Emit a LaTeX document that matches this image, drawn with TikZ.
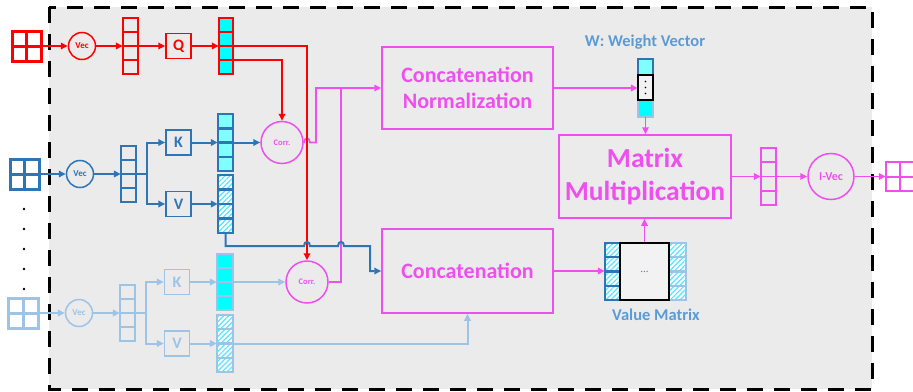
\documentclass[tikz,border=0pt]{standalone}
\usepackage{fontspec}
\setmainfont{Carlito}
\usetikzlibrary{arrows.meta,patterns.meta,fit,calc}
\definecolor{myred}{HTML}{FF0000}
\definecolor{mypink}{HTML}{EE4FEE}
\definecolor{dblue}{HTML}{2E75B6}
\definecolor{lblue}{HTML}{9DC3E6}
\definecolor{wblue}{HTML}{5B9BD5}
\definecolor{cyanA}{HTML}{00FFFF}
\definecolor{cyanL}{HTML}{7FFFFF}
\definecolor{hatchc}{HTML}{55E6FF}
\definecolor{bggray}{HTML}{EBEBEB}
\definecolor{dotc}{HTML}{5B7FA6}
\newcommand\gridin[6]{%
  \draw[#6] (#2,#3) rectangle (#4,#5) ({(#2+#4)/2},#3) -- ({(#2+#4)/2},#5) (#2,{(#3+#5)/2}) -- (#4,{(#3+#5)/2});
  \node[fit={(#2,#3) (#4,#5)}, inner sep=0pt] (#1) {};}
\newcommand\cellcol[6]{%
  \foreach \k in {0,1,2,3}{\draw[#6] (#2,{#3+\k*(#5-#3)/4}) rectangle (#4,{#3+(\k+1)*(#5-#3)/4});}
  \node[fit={(#2,#3) (#4,#5)}, inner sep=0pt] (#1) {};}
\begin{document}
\begin{tikzpicture}[x=1pt,y=-1pt,
  arr/.style={-{Triangle[length=7pt,width=6.5pt]}},
  rl/.style={draw=myred,line width=2pt},
  bl/.style={draw=dblue,line width=2pt},
  ll/.style={draw=lblue,line width=2pt},
  pl/.style={draw=mypink,line width=1.6pt},
  circ/.style={circle,line width=1.5pt,minimum size=27pt,inner sep=0pt,font=\bfseries\fontsize{9}{10}\selectfont},
  corr/.style={circle,draw=mypink,text=mypink,line width=1.5pt,minimum size=42pt,inner sep=0pt,font=\bfseries\fontsize{8.5}{10}\selectfont},
  qkv/.style={draw,line width=1.5pt,minimum width=25pt,minimum height=25pt,inner sep=0pt,font=\bfseries\fontsize{16}{17}\selectfont},
  bigbox/.style={draw=mypink,line width=1.5pt,text=mypink,inner sep=0pt,align=center},
  rcell/.style={draw=myred,line width=2.5pt},
  rqcell/.style={draw=myred,line width=2.5pt,fill=cyanA},
  bcell/.style={draw=dblue,line width=2.5pt},
  bkcell/.style={draw=dblue,line width=2.5pt,fill=cyanL},
  lcell/.style={draw=lblue,line width=2.5pt},
  lkcell/.style={draw=lblue,line width=2.5pt,fill=cyanA},
  pcell/.style={draw=mypink,line width=1.8pt},
  hatchd/.style={draw=dblue,line width=2.2pt,preaction={fill=white},pattern={Lines[angle=45,distance=3.5pt,line width=1.2pt]},pattern color=hatchc},
  hatchl/.style={draw=lblue,line width=2.2pt,preaction={fill=white},pattern={Lines[angle=45,distance=3.5pt,line width=1.2pt]},pattern color=hatchc},
  lab/.style={text=wblue,font=\bfseries\fontsize{16.5}{18}\selectfont,inner sep=0pt}
]
\useasboundingbox (0,0) rectangle (913,391);
% background dashed frame
\draw[fill=bggray,draw=black,line width=3pt,dash pattern=on 16pt off 11pt] (49,7) rectangle (872,389);

% ---- red row
\gridin{rin}{12}{31}{41}{61}{draw=myred,line width=3pt}
\node[circ,draw=myred,text=myred] (rvec) at (82,46) {Vec};
\cellcol{rcol}{123}{18}{138}{74}{rcell}
\node[qkv,draw=myred,text=myred] (q) at (178.5,46) {Q};
\cellcol{rq}{219}{18}{233}{74}{rqcell}

% ---- blue row
\gridin{bin}{10}{159}{39}{189}{draw=dblue,line width=3pt}
\node[circ,draw=dblue,text=dblue] (bvec) at (80,174) {Vec};
\cellcol{bcol}{121}{146}{136}{202}{bcell}
\node[qkv,draw=dblue,text=dblue] (k) at (178.5,142.5) {K};
\node[qkv,draw=dblue,text=dblue] (v) at (178.5,204) {V};
\cellcol{bk}{218}{114}{233}{171}{bkcell}
\cellcol{bv}{218}{175}{233}{233}{hatchd}

% ---- light row
\gridin{lin}{8}{298}{38}{328}{draw=lblue,line width=3pt}
\node[circ,draw=lblue,text=lblue] (lvec) at (79,313) {Vec};
\cellcol{lcol}{120}{285}{135}{341}{lcell}
\node[qkv,draw=lblue,text=lblue] (k2) at (177,282) {K};
\node[qkv,draw=lblue,text=lblue] (v2) at (177,343.5) {V};
\cellcol{lk}{217}{254}{233}{310}{lkcell}
\cellcol{lv}{217}{315}{233}{372}{hatchl}

% dots
\foreach \yy in {209,229,249,269,289}{\fill (24,\yy) circle (1.3pt);}

% correlation circles
\node[corr] (c1) at (282,142.5) {Corr.};
\node[corr] (c2) at (307,282) {Corr.};

% big boxes
\node[bigbox,minimum width=171pt,minimum height=82pt,font=\bfseries\fontsize{22}{26}\selectfont] (cn) at (467.5,88) {Concatenation\\Normalization};
\node[bigbox,minimum width=171pt,minimum height=84pt,font=\bfseries\fontsize{22}{26}\selectfont] (cc) at (467.5,271) {Concatenation};
\node[bigbox,minimum width=172pt,minimum height=83pt,font=\bfseries\fontsize{27.5}{33}\selectfont] (mm) at (645,176.5) {Matrix\\Multiplication};

% weight vector
\draw[draw=dblue,line width=2pt,fill=cyanL] (638,59) rectangle (653,75);
\draw[draw=lblue,line width=2pt,fill=cyanA] (638,100) rectangle (653,117);
\draw[draw=black,line width=2.5pt,fill=white!95!black] (638,75) rectangle (653,100);
\foreach \yy in {81.5,87.5,93.5}{\fill (645.5,\yy) circle (0.8pt);}
\node[fit={(638,59) (653,117)},inner sep=0pt] (wv) {};
\node[lab] (wlab) at (645,42) {W: Weight Vector};

% value matrix
\cellcol{vml}{605}{243}{620}{300}{hatchd}
\cellcol{vmr}{669}{243}{686}{300}{hatchl}
\node[draw=black,line width=2.5pt,fill=white!95!black,minimum width=49pt,minimum height=57pt,inner sep=0pt,text=dotc,font=\fontsize{11}{12}\selectfont] (vmm) at (644.5,271.5) {...};
\node[lab] (vlab) at (656,315) {Value Matrix};

% output
\cellcol{oc}{761}{148}{776}{205}{pcell}
\node[circle,draw=mypink,text=mypink,line width=1.5pt,minimum size=46pt,inner sep=0pt,font=\bfseries\fontsize{12}{13}\selectfont] (ivec) at (831,176.5) {I-Vec};
\gridin{og}{886}{162}{914}{191}{draw=mypink,line width=2pt}

% ---- red connectors
\draw[rl,arr] (rin.east) -- (rvec.west);
\draw[rl,arr] (rvec.east) -- (rcol.west);
\draw[rl,arr] (rcol.east) -- (q.west);
\draw[rl,arr] (q.east) -- (rq.west);
\draw[rl,arr] ($(rq.east)+(0,14)$) -| (c1.north);

% ---- blue connectors
\draw[bl,arr] (bin.east) -- (bvec.west);
\draw[bl,arr] (bvec.east) -- (bcol.west);
\draw[bl] (bcol.east) -- (147,174) coordinate (bbr);
\draw[bl,arr] (bbr) |- (k.west);
\draw[bl,arr] (bbr) |- (v.west);
\draw[bl,arr] (k.east) -- (bk.west);
\draw[bl,arr] (v.east) -- (bv.west);
\draw[bl,arr] (bk.east) -- (c1.west);

% ---- light connectors
\draw[ll,arr] (lin.east) -- (lvec.west);
\draw[ll,arr] (lvec.east) -- (lcol.west);
\draw[ll] (lcol.east) -- (146,313) coordinate (lbr);
\draw[ll,arr] (lbr) |- (k2.west);
\draw[ll,arr] (lbr) |- (v2.west);
\draw[ll,arr] (k2.east) -- (lk.west);
\draw[ll,arr] (v2.east) -- (lv.west);
\draw[ll,arr] (lk.east) -- (c2.west);
\draw[ll,arr] (lv.east) -| (cc.south);

% ---- pink connectors
\draw[pl] (c2.east) -- (341,282) -- (341,88) coordinate (j2);
\draw[pl,arr] (c1.east) -- (304,142.5) .. controls (304,137) and (310,137) .. (310,142.5) -- (316,142.5) |- (cn.west);
\draw[pl,arr] (cn.east) -- (cn.east -| wv.west);
\draw[pl,arr] (wv.south) -- (wv.south |- mm.north);
\draw[pl,arr] (cc.east) -- (cc.east -| vml.west);
\draw[pl,arr] (vmm.north) -- (vmm.north |- mm.south);
\draw[pl,arr] (mm.east) -- (oc.west);
\draw[pl,arr] (oc.east) -- (ivec.west);
\draw[pl,arr] (ivec.east) -- (og.west);

% red line to lower correlation (drawn over pink)
\draw[rl,arr] (rq.east) -| (c2.north);
% blue line with jumps
\draw[bl,arr] (bv.south) -- (225.5,246) -- (304,246) .. controls (304,240.5) and (310,240.5) .. (310,246) -- (338,246) .. controls (338,240.5) and (344,240.5) .. (344,246) -- (370,246) |- (cc.west);
\end{tikzpicture}
\end{document}
